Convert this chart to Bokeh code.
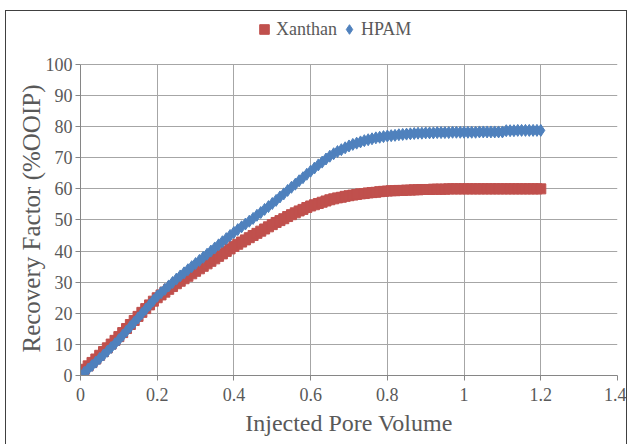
from bokeh.plotting import figure
from bokeh.models import Legend, LegendItem, FixedTicker, Range1d, Title
from bokeh.embed import file_html
from bokeh.resources import INLINE

# Injected pore volume (x) for both series
pv = [round(0.01 * i, 2) for i in range(1, 121)]

hpam = [
    1.0, 2.1, 3.2, 4.3, 5.5, 6.6, 7.8, 9.0, 10.2, 11.5,
    12.9, 14.3, 15.7, 17.1, 18.5, 19.9, 21.3, 22.7, 24.1, 25.5,
    26.6, 27.7, 28.8, 29.9, 31.0, 32.0, 33.0, 34.0, 35.0, 36.0,
    37.0, 38.0, 39.0, 40.0, 41.0, 42.0, 43.0, 44.0, 45.0, 46.0,
    46.9, 47.8, 48.7, 49.6, 50.5, 51.5, 52.4, 53.4, 54.3, 55.3,
    56.3, 57.4, 58.4, 59.5, 60.5, 61.5, 62.6, 63.6, 64.7, 65.7,
    66.7, 67.7, 68.6, 69.6, 70.5, 71.3, 72.0, 72.6, 73.2, 73.8,
    74.3, 74.7, 75.1, 75.5, 75.8, 76.1, 76.4, 76.6, 76.8, 77.0,
    77.1, 77.2, 77.4, 77.5, 77.6, 77.7, 77.8, 77.9, 77.9, 78.0,
    78.0, 78.0, 78.1, 78.1, 78.1, 78.1, 78.2, 78.2, 78.2, 78.2,
    78.2, 78.2, 78.2, 78.3, 78.3, 78.3, 78.3, 78.3, 78.3, 78.3,
    78.7, 78.7, 78.7, 78.8, 78.8, 78.8, 78.8, 78.8, 78.8, 78.8,
]

xanthan = [
    2.0, 3.1, 4.2, 5.3, 6.5, 7.7, 8.9, 10.1, 11.3, 12.5,
    13.8, 15.1, 16.4, 17.7, 19.0, 20.3, 21.5, 22.7, 23.9, 25.0,
    25.9, 26.8, 27.7, 28.6, 29.5, 30.3, 31.1, 31.9, 32.7, 33.5,
    34.3, 35.1, 35.9, 36.7, 37.5, 38.3, 39.1, 39.9, 40.7, 41.5,
    42.2, 42.9, 43.6, 44.3, 45.0, 45.7, 46.4, 47.1, 47.8, 48.5,
    49.2, 49.8, 50.4, 51.1, 51.7, 52.3, 52.9, 53.4, 54.0, 54.5,
    54.9, 55.3, 55.7, 56.1, 56.5, 56.8, 57.1, 57.3, 57.6, 57.8,
    58.0, 58.2, 58.4, 58.5, 58.7, 58.8, 58.9, 59.1, 59.2, 59.3,
    59.4, 59.4, 59.5, 59.5, 59.6, 59.6, 59.7, 59.7, 59.8, 59.8,
    59.8, 59.9, 59.9, 59.9, 59.9, 60.0, 60.0, 60.0, 60.0, 60.0,
    60.0, 60.0, 60.0, 60.0, 60.0, 60.0, 60.0, 60.0, 60.0, 60.0,
    60.0, 60.0, 60.0, 60.0, 60.0, 60.0, 60.0, 60.0, 60.0, 60.0,
]

x_ticks = [0, 0.2, 0.4, 0.6, 0.8, 1.0, 1.2, 1.4]
x_tick_labels = {0: "0", 0.2: "0.2", 0.4: "0.4", 0.6: "0.6", 0.8: "0.8", 1.0: "1", 1.2: "1.2", 1.4: "1.4"}
y_ticks = [0, 10, 20, 30, 40, 50, 60, 70, 80, 90, 100]

RED = "#C0504D"
BLUE = "#4F81BD"
FONT = "Liberation Serif"
TXT = "#595959"

# y range extends above 100 only to leave room (inside the frame) for the legend row
p = figure(width=626, height=442, output_backend="svg", toolbar_location=None,
           x_range=Range1d(0, 1.4), y_range=Range1d(0, 116.7),
           min_border_left=80, min_border_right=9, min_border_top=12, min_border_bottom=67)

p.outline_line_color = None
p.background_fill_color = "white"
p.border_fill_color = "white"

r1 = p.scatter(pv, xanthan, marker="square", size=10, fill_color=RED, line_color=RED)
r2 = p.scatter(pv, hpam, marker="diamond", size=12, fill_color=BLUE, line_color=BLUE)

p.xaxis.ticker = FixedTicker(ticks=x_ticks)
p.xaxis.major_label_overrides = x_tick_labels
p.yaxis.ticker = FixedTicker(ticks=y_ticks)
p.yaxis.bounds = (0, 100)
for ax in (p.xaxis, p.yaxis):
    ax.axis_line_color = "#868686"
    ax.major_tick_line_color = "#868686"
    ax.major_tick_out = 5
    ax.major_tick_in = 0
    ax.minor_tick_line_color = None
    ax.major_label_text_font = FONT
    ax.major_label_text_font_size = "18px"
    ax.major_label_text_color = TXT
    ax.axis_label_text_font = FONT
    ax.axis_label_text_font_style = "normal"
    ax.axis_label_text_color = TXT

p.xaxis.axis_label = "Injected Pore Volume"
p.xaxis.axis_label_text_font_size = "24px"
p.xaxis.major_label_standoff = 7
p.yaxis.major_label_standoff = 3
p.xaxis.axis_label_standoff = 6

# y-axis title placed as a side title so it can sit over the 0-100 span
ytitle = Title(text="Recovery Factor (%OOIP)", align="left", offset=23, standoff=-5,
               text_font=FONT, text_font_size="25px", text_font_style="normal",
               text_color=TXT)
p.add_layout(ytitle, "left")

p.xgrid.grid_line_color = "#A6A6A6"
p.ygrid.grid_line_color = "#A6A6A6"
p.xgrid.ticker = FixedTicker(ticks=x_ticks)
p.ygrid.ticker = FixedTicker(ticks=y_ticks)
p.xgrid.cross_bounds = (0, 100)

legend = Legend(items=[LegendItem(label="Xanthan", renderers=[r1]),
                       LegendItem(label="HPAM", renderers=[r2])],
                orientation="horizontal", location=(172, 334),
                label_text_font=FONT, label_text_font_size="18px", label_text_color=TXT,
                border_line_color=None, background_fill_alpha=0,
                glyph_width=24, glyph_height=24, label_standoff=-6, spacing=0,
                padding=2, margin=0)
p.add_layout(legend)

html = file_html(p, INLINE)
frame_div = ('<div style="position:fixed;left:5px;top:10px;width:620px;height:440px;'
             'border:1px solid #404040;pointer-events:none;"></div>')
html = html.replace("</body>", frame_div + "</body>")
open("out.html", "w").write(html)
